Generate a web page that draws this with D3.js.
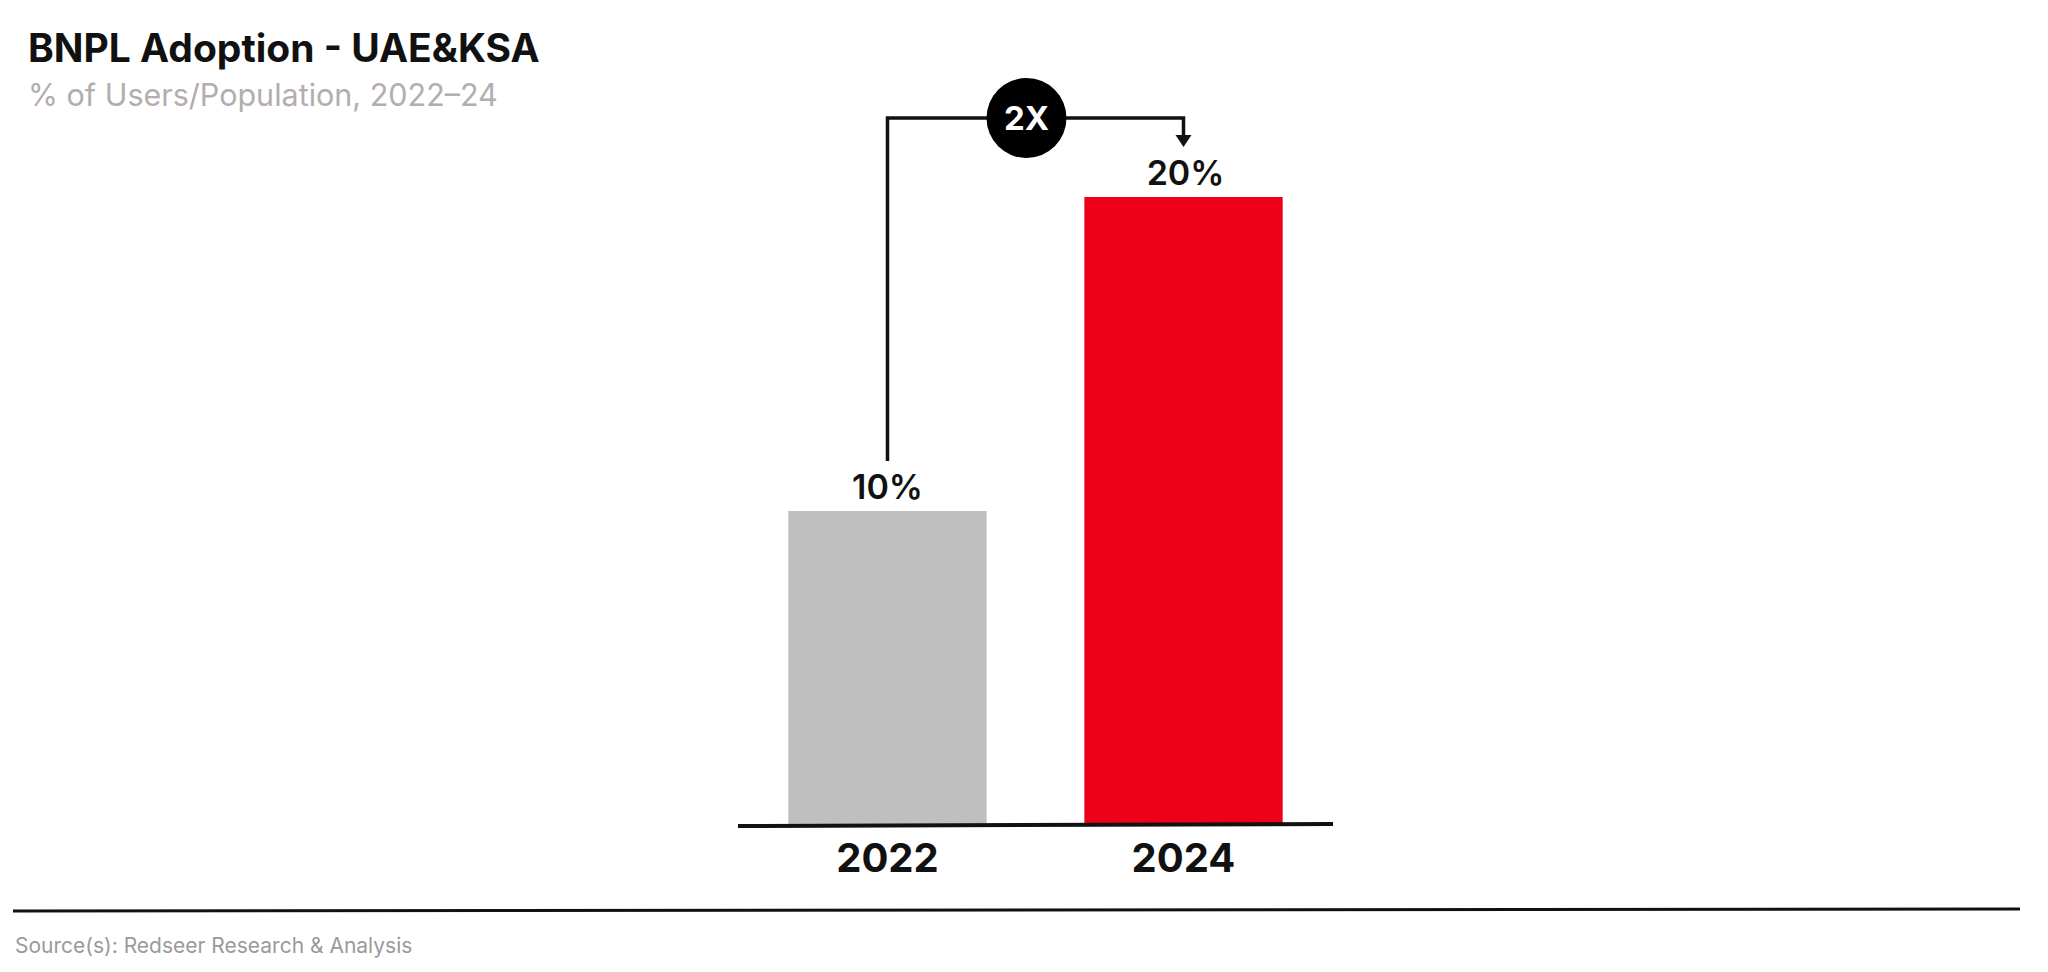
<!DOCTYPE html>
<html>
<head>
<meta charset="utf-8">
<script src="https://cdn.jsdelivr.net/npm/d3@7/dist/d3.min.js"></script>
<style>
  html, body { margin: 0; padding: 0; background: #fff; }
  svg { display: block; }
  text { font-family: "Inter", "Lato", sans-serif; }
</style>
</head>
<body>
<svg id="chart" width="2048" height="972"></svg>
<script>
const categories = ["2022", "2024"];
const values = [10, 20];
const valueLabels = ["10%", "20%"];
const barColors = ["#bfbfbf", "#ee0019"];
const growthLabel = "2X";
const titleText = "BNPL Adoption - UAE&KSA";
const subtitleText = "% of Users/Population, 2022–24";
const sourceText = "Source(s): Redseer Research & Analysis";

const svg = d3.select("#chart");

const x = d3.scaleBand().domain(categories).range([738, 1333])
  .paddingInner(0.33).paddingOuter(0.17);
const y = d3.scaleLinear().domain([0, 20]).range([825, 197]);

// Title & subtitle
svg.append("text").attr("x", 28).attr("y", 62)
  .attr("font-size", 39).attr("font-weight", 700).attr("fill", "#111")
  .text(titleText);
svg.append("text").attr("x", 28).attr("y", 106)
  .attr("font-size", 30.5).attr("font-weight", 400).attr("fill", "#b3adad")
  .text(subtitleText);

// Bars
svg.selectAll("rect.bar").data(categories).join("rect")
  .attr("class", "bar")
  .attr("x", d => x(d))
  .attr("width", x.bandwidth())
  .attr("y", (d, i) => y(values[i]))
  .attr("height", (d, i) => y(0) - y(values[i]))
  .attr("fill", (d, i) => barColors[i]);

// Axis baseline
svg.append("line")
  .attr("x1", x.range()[0]).attr("x2", x.range()[1])
  .attr("y1", y(0) + 1).attr("y2", y(0) - 1)
  .attr("stroke", "#111").attr("stroke-width", 4);

// Category labels
svg.selectAll("text.cat").data(categories).join("text")
  .attr("class", "cat")
  .attr("x", d => x(d) + x.bandwidth() / 2)
  .attr("y", 872)
  .attr("text-anchor", "middle")
  .attr("font-size", 40).attr("font-weight", 700).attr("fill", "#111")
  .text(d => d);

// Value labels
svg.selectAll("text.val").data(categories).join("text")
  .attr("class", "val")
  .attr("x", (d, i) => x(d) + x.bandwidth() / 2 + (i === 1 ? 2 : 0))
  .attr("y", (d, i) => y(values[i]) - 12)
  .attr("text-anchor", "middle")
  .attr("font-size", 34).attr("font-weight", 600).attr("fill", "#111")
  .text((d, i) => valueLabels[i]);

// Growth bracket
const xa = x(categories[0]) + x.bandwidth() / 2;
const xb = x(categories[1]) + x.bandwidth() / 2;
const yTop = 118;
const yStartA = y(values[0]) - 50;
const tipY = y(values[1]) - 50;
svg.append("path")
  .attr("d", `M${xa},${yStartA} L${xa},${yTop} L${xb},${yTop} L${xb},${tipY - 10}`)
  .attr("fill", "none").attr("stroke", "#111").attr("stroke-width", 3.5)
  .attr("stroke-linejoin", "miter");
svg.append("path")
  .attr("d", `M${xb - 8},${tipY - 12} L${xb + 8},${tipY - 12} L${xb},${tipY} Z`)
  .attr("fill", "#111");

const cx = (xa + xb) / 2 - 9;
svg.append("circle").attr("cx", cx).attr("cy", yTop).attr("r", 40).attr("fill", "#000");
svg.append("text").attr("x", cx).attr("y", yTop + 12)
  .attr("text-anchor", "middle")
  .attr("font-size", 33).attr("font-weight", 700).attr("fill", "#fff")
  .text(growthLabel);

// Bottom rule & source
svg.append("line").attr("x1", 13).attr("x2", 2020).attr("y1", 911).attr("y2", 909)
  .attr("stroke", "#111").attr("stroke-width", 3);
svg.append("text").attr("x", 15).attr("y", 953)
  .attr("font-size", 21).attr("fill", "#9a9a9a")
  .text(sourceText);
</script>
</body>
</html>
